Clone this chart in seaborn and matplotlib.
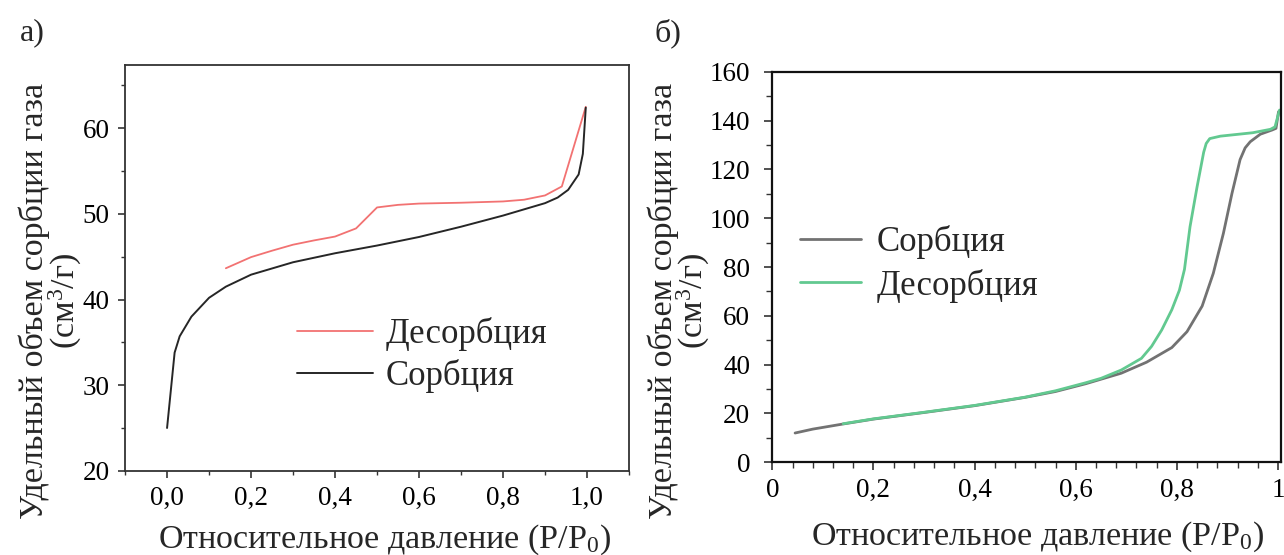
import numpy as np
import pandas as pd
import matplotlib
matplotlib.use("Agg")
import matplotlib.pyplot as plt
from matplotlib.ticker import MultipleLocator, FuncFormatter
import seaborn as sns

# ---- panel a) isotherm ----
a_sorb_p = [0.0, 0.018, 0.03, 0.058, 0.1, 0.14, 0.2, 0.3, 0.4, 0.5, 0.6, 0.7,
            0.8, 0.9, 0.93, 0.955, 0.98, 0.99, 0.997]
a_sorb_v = [25.0, 33.8, 35.7, 38.0, 40.2, 41.5, 42.9, 44.35, 45.4, 46.3, 47.3,
            48.5, 49.8, 51.25, 51.9, 52.8, 54.6, 57.0, 62.4]
a_des_p = [0.14, 0.2, 0.25, 0.3, 0.35, 0.4, 0.45, 0.5, 0.55, 0.6, 0.7, 0.8,
           0.85, 0.9, 0.94, 0.997]
a_des_v = [43.65, 44.95, 45.7, 46.4, 46.9, 47.35, 48.3, 50.75, 51.05, 51.2,
           51.3, 51.45, 51.65, 52.15, 53.2, 62.5]

# ---- panel б) isotherm ----
b_sorb_p = [0.045, 0.08, 0.14, 0.2, 0.3, 0.4, 0.5, 0.56, 0.62, 0.69, 0.74,
            0.79, 0.82, 0.85, 0.872, 0.892, 0.909, 0.925, 0.935, 0.945, 0.965,
            0.988, 0.996, 1.001]
b_sorb_v = [12.0, 13.6, 15.7, 17.7, 20.4, 23.2, 26.6, 29.0, 32.2, 36.5, 41.0,
            47.0, 53.5, 64.0, 77.4, 93.8, 110.2, 124.0, 128.8, 131.3, 134.4,
            136.1, 136.8, 143.6]
b_des_p = [0.14, 0.2, 0.3, 0.4, 0.5, 0.56, 0.62, 0.65, 0.69, 0.73, 0.75,
           0.77, 0.79, 0.805, 0.815, 0.826, 0.84, 0.853, 0.858, 0.865, 0.886,
           0.95, 0.985, 0.994, 1.003]
b_des_v = [15.8, 17.8, 20.5, 23.3, 26.7, 29.3, 32.6, 34.4, 37.8, 42.6, 47.5,
           54.2, 62.5, 70.5, 79.0, 96.5, 112.9, 127.0, 130.6, 132.6, 133.6,
           135.0, 136.4, 137.4, 144.3]

label_sorb = "Сорбция"
label_des = "Десорбция"
xlabel = "Относительное давление (P/P$_0$)"
ylabel = "Удельный объем сорбции газа\n(см$^3$/г)"

sns.set_theme(style="ticks")
plt.rcParams["font.family"] = ["Liberation Serif", "DejaVu Serif"]
plt.rcParams["mathtext.fontset"] = "custom"
plt.rcParams["mathtext.rm"] = "Liberation Serif"
plt.rcParams["mathtext.it"] = "Liberation Serif:italic"
plt.rcParams["mathtext.bf"] = "Liberation Serif:bold"

TICK_FS = 19.5
LAB_FS = 24.5
LEG_FS = 25

fig = plt.figure(figsize=(12.84, 5.55), dpi=100)
ax1 = fig.add_axes([0.0974, 0.1517, 0.3925, 0.7315])
ax2 = fig.add_axes([0.6015, 0.1670, 0.3962, 0.7038])

comma = lambda fmt: FuncFormatter(lambda v, _: (fmt % v).replace(".", ","))

# panel a
df_a_des = pd.DataFrame({"p": a_des_p, "v": a_des_v})
df_a_sorb = pd.DataFrame({"p": a_sorb_p, "v": a_sorb_v})
sns.lineplot(data=df_a_des, x="p", y="v", ax=ax1, color="#f27272", lw=1.3,
             sort=False, estimator=None, label=label_des)
sns.lineplot(data=df_a_sorb, x="p", y="v", ax=ax1, color="#262626", lw=1.4,
             sort=False, estimator=None, label=label_sorb)
ax1.set_xlim(-0.1, 1.1)
ax1.set_ylim(20, 67.4)
ax1.xaxis.set_major_locator(MultipleLocator(0.2))
ax1.xaxis.set_minor_locator(MultipleLocator(0.1))
ax1.yaxis.set_major_locator(MultipleLocator(10))
ax1.yaxis.set_minor_locator(MultipleLocator(5))
ax1.xaxis.set_major_formatter(comma("%.1f"))
ax1.yaxis.set_major_formatter(comma("%g"))
for s in ax1.spines.values():
    s.set_linewidth(1.3)
    s.set_color("#333333")
ax1.legend(loc="upper left", bbox_to_anchor=(0.341, 0.378), frameon=False,
           fontsize=LEG_FS, handlelength=2.2, handletextpad=0.35,
           labelspacing=0.22, borderpad=0, borderaxespad=0)
ax1.tick_params(which="major", direction="out", length=5, width=1.1,
                labelsize=TICK_FS, colors="#222222", labelcolor="black", pad=6)
ax1.tick_params(which="minor", direction="out", length=3, width=1.0,
                colors="#333333")

# panel б
df_b_sorb = pd.DataFrame({"p": b_sorb_p, "v": b_sorb_v})
df_b_des = pd.DataFrame({"p": b_des_p, "v": b_des_v})
sns.lineplot(data=df_b_sorb, x="p", y="v", ax=ax2, color="#727272", lw=2.0,
             sort=False, estimator=None, label=label_sorb)
sns.lineplot(data=df_b_des, x="p", y="v", ax=ax2, color="#62c990", lw=2.0,
             sort=False, estimator=None, label=label_des)
ax2.set_xlim(0, 1.006)
ax2.set_ylim(0, 160)
ax2.xaxis.set_major_locator(MultipleLocator(0.2))
ax2.xaxis.set_minor_locator(MultipleLocator(0.04))
ax2.yaxis.set_major_locator(MultipleLocator(20))
ax2.yaxis.set_minor_locator(MultipleLocator(10))
ax2.xaxis.set_major_formatter(comma("%g"))
ax2.yaxis.set_major_formatter(comma("%g"))
for s in ax2.spines.values():
    s.set_linewidth(1.6)
    s.set_color("#111111")
ax2.legend(loc="upper left", bbox_to_anchor=(0.054, 0.607), frameon=False,
           fontsize=LEG_FS, handlelength=1.76, handletextpad=0.46,
           labelspacing=0.27, borderpad=0, borderaxespad=0)
ax2.tick_params(which="major", direction="out", length=6, width=1.1,
                labelsize=TICK_FS, colors="#222222", labelcolor="black", pad=5)
ax2.tick_params(axis="y", which="major", pad=10)
ax2.tick_params(which="minor", direction="out", length=4, width=1.0,
                colors="#333333")

for ax in (ax1, ax2):
    ax.tick_params(top=False, right=False, which="both")
    ax.set_xlabel(xlabel, fontsize=LAB_FS)
    ax.set_ylabel(ylabel, fontsize=LAB_FS, linespacing=0.87)
    ax.grid(False)

ax1.xaxis.set_label_coords(0.515, -0.127)
ax1.yaxis.set_label_coords(-0.082, 0.418)
ax2.xaxis.set_label_coords(0.522, -0.147)
ax2.yaxis.set_label_coords(-0.1185, 0.413)

fig.text(20 / 1284, 1 - 33 / 555, "а)", fontsize=23, va="center", ha="left")
fig.text(654 / 1284, 1 - 33 / 555, "б)", fontsize=23, va="center", ha="left")

fig.savefig("out.png", dpi=100)
